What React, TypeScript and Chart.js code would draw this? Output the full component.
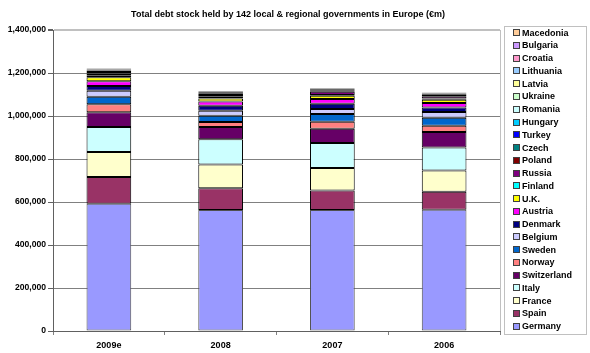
import React, { useEffect, useRef } from "react";
import { Chart, registerables } from "chart.js";

Chart.register(...registerables);

const categories = ["2009e", "2008", "2007", "2006"];

// values in € million
const germany = [592000, 563000, 563000, 564000];
const spain = [124000, 101000, 90000, 84000];
const france = [117000, 111000, 105000, 98000];
const italy = [116000, 117000, 117000, 107000];
const switzerland = [68000, 57000, 66000, 73000];
const norway = [38000, 23000, 32000, 29000];
const sweden = [35000, 29000, 36000, 37000];
const belgium = [28000, 24000, 24000, 27000];
const denmark = [22000, 23000, 24000, 21000];
const austria = [22000, 20000, 22000, 20000];
const uk = [18000, 13000, 15000, 16000];
const finland = [10000, 9000, 4000, 5000];
const russia = [8000, 8000, 15000, 11000];
const poland = [7000, 6000, 5000, 6000];
const czech = [4000, 3000, 3000, 3000];
const turkey = [3000, 3000, 3000, 3000];
const hungary = [3000, 2000, 2000, 2000];
const romania = [3000, 2000, 1500, 1500];
const ukraine = [1000, 1000, 500, 500];
const latvia = [1000, 500, 400, 400];
const lithuania = [1000, 300, 300, 300];
const croatia = [500, 200, 200, 200];
const bulgaria = [500, 300, 200, 200];
const macedonia = [200, 100, 100, 100];

const seriesNames = [
  "Germany", "Spain", "France", "Italy", "Switzerland", "Norway", "Sweden",
  "Belgium", "Denmark", "Austria", "U.K.", "Finland", "Russia", "Poland",
  "Czech", "Turkey", "Hungary", "Romania", "Ukraine", "Latvia", "Lithuania",
  "Croatia", "Bulgaria", "Macedonia",
];
const seriesValues = [
  germany, spain, france, italy, switzerland, norway, sweden, belgium, denmark,
  austria, uk, finland, russia, poland, czech, turkey, hungary, romania,
  ukraine, latvia, lithuania, croatia, bulgaria, macedonia,
];
const seriesColors = [
  "#9999FF", "#993366", "#FFFFCC", "#CCFFFF", "#660066", "#FF8080", "#0066CC",
  "#CCCCFF", "#000080", "#FF00FF", "#FFFF00", "#00FFFF", "#800080", "#800000",
  "#008080", "#0000FF", "#00CCFF", "#CCFFFF", "#CCFFCC", "#FFFF99", "#99CCFF",
  "#FF99CC", "#CC99FF", "#FFCC99",
];

const yTicks = [0, 200000, 400000, 600000, 800000, 1000000, 1200000, 1400000];
const titleText = "Total debt stock held by 142 local & regional governments in Europe (€m)";

const FONT = "'Liberation Sans', Arial, sans-serif";

const decorPlugin = {
  id: "decor",
  afterDraw(chart: any) {
    const ctx = chart.ctx;
    const area = chart.chartArea;
    ctx.save();
    // plot-area right border
    ctx.strokeStyle = "#c0c0c0";
    ctx.lineWidth = 1;
    ctx.beginPath();
    ctx.moveTo(area.right + 0.5, area.top);
    ctx.lineTo(area.right + 0.5, area.bottom);
    ctx.stroke();

    // title
    ctx.fillStyle = "#000";
    ctx.font = `bold 9px ${FONT}`;
    ctx.textAlign = "center";
    ctx.textBaseline = "middle";
    ctx.fillText(titleText, 288, 14.5);

    // legend box
    const lx = 504, ly = 26, lw = 82, lh = 308;
    ctx.strokeStyle = "#808080";
    ctx.setLineDash([1, 1]);
    ctx.strokeRect(lx + 0.5, ly + 0.5, lw, lh);
    ctx.setLineDash([]);
    ctx.font = `bold 9px ${FONT}`;
    ctx.textAlign = "left";
    const n = seriesNames.length;
    for (let i = 0; i < n; i++) {
      const idx = n - 1 - i;
      const cy = 32.7 + i * 12.76;
      ctx.fillStyle = seriesColors[idx];
      ctx.fillRect(514, Math.round(cy - 2.5), 5, 5);
      ctx.strokeStyle = "#404040";
      ctx.strokeRect(513.5, Math.round(cy - 2.5) - 0.5, 6, 6);
      ctx.fillStyle = "#000";
      ctx.fillText(seriesNames[idx], 522, cy + 0.5);
    }
    ctx.restore();
  },
};

export default function App() {
  const ref = useRef<HTMLCanvasElement>(null);
  useEffect(() => {
    if (!ref.current) return;
    const chart = new Chart(ref.current, {
      type: "bar",
      data: {
        labels: categories,
        datasets: seriesNames.map((name, i) => ({
          label: name,
          data: seriesValues[i],
          backgroundColor: seriesColors[i],
          borderColor: i === 0 ? "#505050" : "#000000",
          borderWidth: 1,
          borderSkipped: false,
          categoryPercentage: 1,
          barPercentage: 0.4,
        })),
      },
      options: {
        responsive: false,
        animation: false,
        maintainAspectRatio: false,
        layout: { padding: { left: 0, right: 90, top: 30, bottom: 0 } },
        plugins: {
          legend: { display: false },
          title: { display: false },
          tooltip: { enabled: false },
        },
        scales: {
          x: {
            stacked: true,
            afterFit: (scale: any) => { scale.height = 22; },
            grid: {
              display: true,
              drawOnChartArea: false,
              drawTicks: true,
              tickLength: 4,
              color: "#808080",
              offset: true,
            },
            border: { color: "#606060", width: 1 },
            ticks: {
              color: "#000",
              font: { family: FONT, size: 9, weight: "bold" },
              padding: 5,
              maxRotation: 0,
            },
          },
          y: {
            stacked: true,
            min: 0,
            max: 1400000,
            afterFit: (scale: any) => { scale.width = 53; },
            afterBuildTicks: (scale: any) => {
              scale.ticks = yTicks.map((v) => ({ value: v }));
            },
            grid: {
              color: (c: any) => (c.tick && c.tick.value === 1400000 ? "#c0c0c0" : "#808080"),
              lineWidth: (c: any) => (c.tick && c.tick.value === 1400000 ? 2 : 1),
              tickLength: 5,
              tickColor: "#606060",
            },
            border: { color: "#606060", width: 1 },
            ticks: {
              color: "#000",
              font: { family: FONT, size: 8.6, weight: "bold" },
              padding: 2,
              callback: (v: any) => Number(v).toLocaleString("en-US"),
            },
          },
        },
      },
      plugins: [decorPlugin],
    });
    return () => chart.destroy();
  }, []);
  return (
    <div style={{ position: "fixed", left: 0, top: 0, width: 590, height: 353, background: "#fff" }}>
      <canvas ref={ref} width={590} height={353} style={{ width: 590, height: 353, display: "block" }} />
    </div>
  );
}
